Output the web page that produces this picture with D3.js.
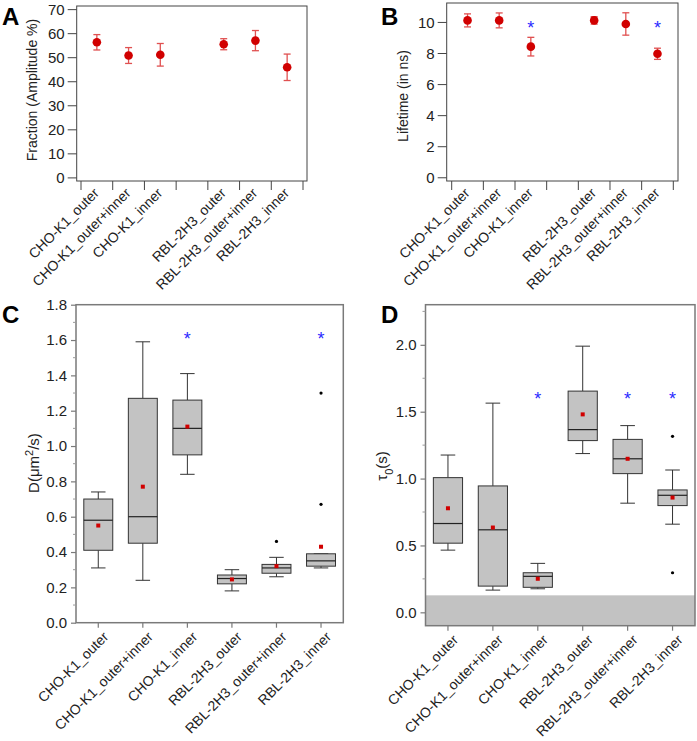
<!DOCTYPE html>
<html><head><meta charset="utf-8">
<script src="https://cdn.jsdelivr.net/npm/d3@7"></script>
<style>
body{margin:0;background:#fff;}
svg{display:block;font-family:"Liberation Sans",Arial,sans-serif;}
</style></head>
<body><svg id="c" width="697" height="741"></svg>
<script>
// ---------- DATA ----------
const catsAB = ["CHO-K1_outer","CHO-K1_outer+inner","CHO-K1_inner","","RBL-2H3_outer","RBL-2H3_outer+inner","RBL-2H3_inner"];
const fractionMean = [56.2, 50.7, 51.0, null, 55.4, 56.9, 45.8];
const fractionErr  = [3.2, 3.3, 4.7, null, 2.3, 4.2, 5.5];
const fractionTicks = [0,10,20,30,40,50,60,70];
const lifetimeMean = [10.1, 10.1, 8.41, null, 10.1, 9.87, 7.95];
const lifetimeErr  = [0.42, 0.48, 0.6, null, 0.24, 0.72, 0.36];
const lifetimeSig  = [false, false, true, false, false, false, true];
const lifetimeSigY = 9.85;
const lifetimeTicks = [0,2,4,6,8,10];

const catsCD = ["CHO-K1_outer","CHO-K1_outer+inner","CHO-K1_inner","RBL-2H3_outer","RBL-2H3_outer+inner","RBL-2H3_inner"];
const dWhiskLo = [0.31, 0.24, 0.84, 0.18, 0.26, 0.31];
const dQ1      = [0.41, 0.45, 0.95, 0.22, 0.28, 0.32];
const dMedian  = [0.58, 0.60, 1.10, 0.25, 0.31, 0.35];
const dQ3      = [0.70, 1.27, 1.26, 0.27, 0.33, 0.39];
const dWhiskHi = [0.74, 1.59, 1.41, 0.30, 0.37, 0.39];
const dMean    = [0.55, 0.77, 1.11, 0.245, 0.32, 0.43];
const dOutliers = [[], [], [], [], [0.46], [0.67, 1.30]];
const dSig = [false, false, true, false, false, true];
const dSigY = 1.63;
const dTicks = [0,0.2,0.4,0.6,0.8,1.0,1.2,1.4,1.6,1.8];

const tWhiskLo = [0.465, 0.166, 0.176, 1.187, 0.816, 0.659];
const tQ1      = [0.517, 0.196, 0.187, 1.284, 1.037, 0.798];
const tMedian  = [0.664, 0.617, 0.269, 1.366, 1.148, 0.875];
const tQ3      = [1.007, 0.945, 0.296, 1.654, 1.293, 0.915];
const tWhiskHi = [1.176, 1.564, 0.366, 1.99, 1.396, 1.064];
const tMean    = [0.778, 0.634, 0.251, 1.48, 1.148, 0.858];
const tOutliers = [[], [], [], [], [], [1.316, 0.296]];
const tSig = [false, false, true, false, true, true];
const tSigY = 1.624;
const tTicks = [0.0, 0.5, 1.0, 1.5, 2.0];
const tThreshold = 0.127;

// ---------- DRAW ----------
const svg = d3.select("#c");
const RED = "#d10000", ERR = "#e05050", BLUE = "#2b2bff";

function letter(x, y, t){
  svg.append("text").attr("x", x).attr("y", y).attr("font-size", 24).attr("font-weight", "bold")
    .attr("font-family", "Liberation Sans, Arial, sans-serif").attr("fill", "#000").text(t);
}

function dotPanel(o){
  const g = svg.append("g");
  const y = d3.scaleLinear().domain(o.yDom).range([o.fb, o.ft]);
  const x = d3.scaleBand().domain(catsAB.map((c,i)=>i)).range([o.tx0, o.tx1]);
  g.append("rect").attr("x", o.fl).attr("y", o.ft).attr("width", o.fr - o.fl).attr("height", o.fb - o.ft)
    .attr("fill", "none").attr("stroke", "#444").attr("stroke-width", 1);
  const ya = g.append("g").attr("transform", `translate(${o.fl},0)`)
    .call(d3.axisLeft(y).tickValues(o.ticks).tickSize(9).tickPadding(3).tickFormat(d3.format("d")));
  ya.select(".domain").remove();
  ya.selectAll("line").attr("stroke", "#444");
  ya.selectAll("text").attr("font-size", 15).attr("dy", "0.36em").attr("fill", "#222").attr("font-family", "Liberation Sans, Arial, sans-serif");
  const edges = d3.range(catsAB.length + 1).map(i => o.tx0 + i * x.bandwidth());
  g.selectAll(".xt").data(edges).join("line")
    .attr("x1", d=>d).attr("x2", d=>d).attr("y1", o.fb).attr("y2", o.fb + 9).attr("stroke", "#444");
  catsAB.forEach((c,i)=>{
    if(!c) return;
    const cx = x(i) + x.bandwidth()/2;
    g.append("text").attr("transform", `translate(${cx + 3},${o.fb + 13}) rotate(-45)`)
      .attr("text-anchor", "end").attr("font-size", 14).attr("fill", "#222").text(c);
  });
  o.mean.forEach((m,i)=>{
    if(m == null) return;
    const cx = x(i) + x.bandwidth()/2;
    const e = o.err[i];
    g.append("line").attr("x1", cx).attr("x2", cx).attr("y1", y(m - e)).attr("y2", y(m + e)).attr("stroke", ERR).attr("stroke-width", 1.3);
    [m - e, m + e].forEach(v => g.append("line").attr("x1", cx - 3.5).attr("x2", cx + 3.5).attr("y1", y(v)).attr("y2", y(v)).attr("stroke", ERR).attr("stroke-width", 1.3));
    g.append("circle").attr("cx", cx).attr("cy", y(m)).attr("r", 4.3).attr("fill", RED);
    if(o.sig && o.sig[i]){
      g.append("text").attr("x", cx).attr("y", y(o.sigY)).attr("dy", "0.55em").attr("text-anchor", "middle")
        .attr("font-size", 18).attr("fill", BLUE).text("*");
    }
  });
  g.append("text").attr("transform", `translate(${o.ylx},${o.yly}) rotate(-90)`).attr("text-anchor", "middle")
    .attr("font-size", 14).attr("fill", "#222").text(o.ylabel);
}

function boxPanel(o){
  const g = svg.append("g");
  const y = d3.scaleLinear().domain(o.yDom).range([o.fb, o.ft]);
  const x = d3.scaleBand().domain(catsCD.map((c,i)=>i)).range([o.fl, o.fr]);
  const bw = x.bandwidth() * 0.65;
  if(o.threshold != null){
    g.append("rect").attr("x", o.fl).attr("y", y(o.threshold)).attr("width", o.fr - o.fl).attr("height", o.fb - y(o.threshold))
      .attr("fill", "#c2c2c2");
  }
  g.append("rect").attr("x", o.fl).attr("y", o.ft).attr("width", o.fr - o.fl).attr("height", o.fb - o.ft)
    .attr("fill", "none").attr("stroke", "#7a7a7a").attr("stroke-width", 1.5);
  const ya = g.append("g").attr("transform", `translate(${o.fl},0)`)
    .call(d3.axisLeft(y).tickValues(o.ticks).tickSize(5).tickPadding(4).tickFormat(d3.format(".1f")));
  ya.select(".domain").remove();
  ya.selectAll("line").attr("stroke", "#7a7a7a").attr("stroke-width", 1.2);
  ya.selectAll("text").attr("font-size", 15).attr("fill", "#222").attr("font-family", "Liberation Sans, Arial, sans-serif");
  g.selectAll(".mt").data(o.minor).join("line")
    .attr("x1", o.fl - 3).attr("x2", o.fl).attr("y1", d=>y(d)).attr("y2", d=>y(d)).attr("stroke", "#9a9a9a");
  catsCD.forEach((c,i)=>{
    const cx = x(i) + x.bandwidth()/2;
    g.append("line").attr("x1", cx).attr("x2", cx).attr("y1", o.fb).attr("y2", o.fb + 5).attr("stroke", "#7a7a7a").attr("stroke-width", 1.2);
    g.append("text").attr("transform", `translate(${cx + 11},${o.fb + 15}) rotate(-45)`)
      .attr("text-anchor", "end").attr("font-size", 14).attr("fill", "#222").text(c);
  });
  catsCD.forEach((c,i)=>{
    const cx = x(i) + x.bandwidth()/2;
    const s = "#333";
    g.append("line").attr("x1", cx).attr("x2", cx).attr("y1", y(o.wlo[i])).attr("y2", y(o.q1[i])).attr("stroke", s);
    g.append("line").attr("x1", cx).attr("x2", cx).attr("y1", y(o.q3[i])).attr("y2", y(o.whi[i])).attr("stroke", s);
    [o.wlo[i], o.whi[i]].forEach(v => g.append("line").attr("x1", cx - bw/4).attr("x2", cx + bw/4).attr("y1", y(v)).attr("y2", y(v)).attr("stroke", s));
    g.append("rect").attr("x", cx - bw/2).attr("y", y(o.q3[i])).attr("width", bw).attr("height", y(o.q1[i]) - y(o.q3[i]))
      .attr("fill", "#c3c3c3").attr("stroke", s).attr("stroke-width", 1);
    g.append("line").attr("x1", cx - bw/2).attr("x2", cx + bw/2).attr("y1", y(o.med[i])).attr("y2", y(o.med[i])).attr("stroke", "#222").attr("stroke-width", 1.2);
    g.append("rect").attr("x", cx - 2).attr("y", y(o.mean[i]) - 2).attr("width", 4).attr("height", 4).attr("fill", RED);
    o.out[i].forEach(v => g.append("circle").attr("cx", cx).attr("cy", y(v)).attr("r", 1.6).attr("fill", "#000"));
    if(o.sig[i]){
      g.append("text").attr("x", cx).attr("y", y(o.sigY)).attr("dy", "0.55em").attr("text-anchor", "middle")
        .attr("font-size", 18).attr("fill", BLUE).text("*");
    }
  });
  o.ylab(g);
}

letter(2, 25, "A");
letter(381, 25, "B");
letter(2, 323, "C");
letter(381, 323, "D");

dotPanel({fl:76.7, fr:307, ft:6, fb:181, tx0:81, tx1:303, yDom:[-1.5,71.3], ticks:fractionTicks,
  mean:fractionMean, err:fractionErr, ylabel:"Fraction (Amplitude %)", ylx:37, yly:90});
dotPanel({fl:446.7, fr:678, ft:3, fb:181, tx0:451.7, tx1:673.3, yDom:[-0.24,11.22], ticks:lifetimeTicks,
  mean:lifetimeMean, err:lifetimeErr, sig:lifetimeSig, sigY:lifetimeSigY, ylabel:"Lifetime (in ns)", ylx:408, yly:96});

boxPanel({fl:76, fr:343.3, ft:304.7, fb:622.7, yDom:[0,1.8], ticks:dTicks,
  minor:d3.range(0.1,1.8,0.2), wlo:dWhiskLo, q1:dQ1, med:dMedian, q3:dQ3, whi:dWhiskHi, mean:dMean, out:dOutliers,
  sig:dSig, sigY:dSigY,
  ylab: g => {
    const t = g.append("text").attr("transform", "translate(39,463) rotate(-90)").attr("text-anchor", "middle")
      .attr("font-size", 15).attr("fill", "#222");
    t.append("tspan").text("D(μm");
    t.append("tspan").attr("baseline-shift", "super").attr("font-size", 11).text("2");
    t.append("tspan").text("/s)");
  }});
boxPanel({fl:425.5, fr:695, ft:304.7, fb:625.7, yDom:[-0.1,2.3], ticks:tTicks, threshold:tThreshold,
  minor:[0.25,0.75,1.25,1.75,2.25], wlo:tWhiskLo, q1:tQ1, med:tMedian, q3:tQ3, whi:tWhiskHi, mean:tMean, out:tOutliers,
  sig:tSig, sigY:tSigY,
  ylab: g => {
    const t = g.append("text").attr("transform", "translate(387,466) rotate(-90)").attr("text-anchor", "middle")
      .attr("font-size", 15).attr("fill", "#222");
    t.append("tspan").text("τ");
    t.append("tspan").attr("baseline-shift", "sub").attr("font-size", 11).text("0");
    t.append("tspan").text("(s)");
  }});
</script></body></html>
